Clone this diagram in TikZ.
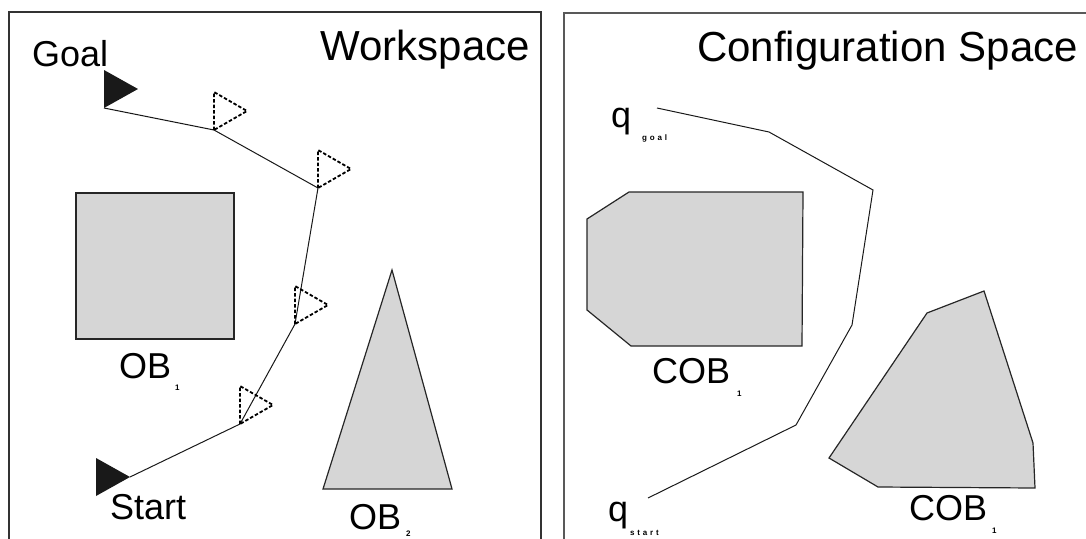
\documentclass[tikz,border=0pt]{standalone}
\usepackage{fontspec}
\setmainfont{Liberation Sans}
\newfontfamily\tagfont[LetterSpace=35]{Liberation Sans}

\tikzstyle{panel} = [
    draw=black!80,
    line width=1.4pt
]
\tikzstyle{obstacle} = [
    draw=black!85,
    fill=black!16,
    line width=1.2pt
]
\tikzstyle{robotpath} = [draw=black!90, line width=1pt]
\tikzstyle{ghost} = [draw=black, dash pattern=on 3.5pt off 2pt, line width=1.8pt]
\tikzstyle{flag} = [fill=black!90]
\tikzstyle{heading} = [font=\fontsize{42}{42}\selectfont, inner sep=0pt]
\tikzstyle{lbl} = [font=\fontsize{36}{36}\selectfont, inner sep=0pt]
\tikzstyle{subtag} = [font=\tagfont\bfseries\fontsize{8}{8}\selectfont, inner sep=0pt]

\begin{document}
\begin{tikzpicture}[x=1pt, y=-1pt]
\useasboundingbox (0,0) rectangle (1086,538);

% the two frames
\draw [panel] (9,545) -- (9,12) -- (541,12) -- (541,545);
\draw [panel, draw=black!65, line width=1.1pt] (564,545) -- (564,13) -- (1090,13);

% workspace
\node (ws) [heading, anchor=base east] at (530,60) {Workspace};

\draw [obstacle] (76,193) rectangle (234,339);
\draw [obstacle] (392,270) -- (452,489) -- (323,489) -- cycle;

\node (ob1) [lbl, anchor=base west] at (119,378) {OB};
\node (ob1sub) [subtag, anchor=base west] at (175,390) {1};
\node (ob2) [lbl, anchor=base west] at (349,529) {OB};
\node (ob2sub) [subtag, anchor=base west] at (406,536) {2};

\coordinate (goal) at (104,108);
\coordinate (wp1) at (214,130);
\coordinate (wp2) at (318,188);
\coordinate (wp3) at (295,324);
\coordinate (wp4) at (240,424);
\coordinate (start) at (130,477);

\draw [robotpath] (goal) -- (wp1) -- (wp2) -- (wp3) -- (wp4) -- (start);
\fill [flag] (goal) -- ++(0,-38) -- ++(34,19) -- cycle;
\fill [flag] (start) -- ++(-34,-19) -- ++(0,38) -- cycle;
\foreach \p in {wp1,wp2,wp3,wp4}
    \draw [ghost] (\p) -- ++(0,-38) -- ++(33,19) -- cycle;

\node (goallbl) [lbl, anchor=base west] at (32,66) {Goal};
\node (startlbl) [lbl, anchor=base west] at (110,519) {Start};

% configuration space
\node (cs) [heading, anchor=base east] at (1078,61) {Configuration Space};

\draw [obstacle] (587,219) -- (629,192) -- (803,192) -- (802,346)
    -- (631,346) -- (587,310) -- cycle;
\draw [obstacle] (829,458) -- (927,313) -- (984,291) -- (1033,443)
    -- (1035,488) -- (878,487) -- cycle;

\node (cob1) [lbl, anchor=base west] at (652,383) {COB};
\node (cob1sub) [subtag, anchor=base west] at (737,396) {1};
\node (cob2) [lbl, anchor=base west] at (909,520) {COB};
\node (cob2sub) [subtag, anchor=base west] at (992,533) {1};

\coordinate (qg) at (657,108);
\coordinate (c1) at (769,132);
\coordinate (c2) at (873,190);
\coordinate (c3) at (852,325);
\coordinate (c4) at (796,425);
\coordinate (qs) at (648,498);

\draw [robotpath] (qg) -- (c1) -- (c2) -- (c3) -- (c4) -- (qs);

\node (qgoal) [lbl, anchor=base west] at (611,127) {q};
\node (qgoalsub) [subtag, anchor=base west] at (642,140) {goal};
\node (qstart) [lbl, anchor=base west] at (608,521) {q};
\node (qstartsub) [subtag, anchor=base west] at (630,535) {start};

\end{tikzpicture}
\end{document}
